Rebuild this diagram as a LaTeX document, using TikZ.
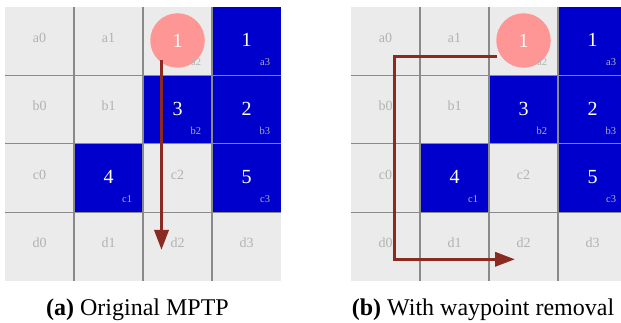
\documentclass[tikz,border=0pt]{standalone}
\usepackage{fontspec}
\setmainfont{Liberation Serif}
\usetikzlibrary{arrows.meta}
\definecolor{cellgray}{HTML}{EBEBEB}
\definecolor{cellblue}{HTML}{0000CC}
\definecolor{gridline}{HTML}{8A8A8A}
\definecolor{lbl}{HTML}{B2B2B2}
\definecolor{pathred}{HTML}{8B2A20}
\definecolor{robot}{HTML}{FF9696}
\begin{document}
\begin{tikzpicture}[x=1pt,y=-1pt,
  cell/.style={rectangle, inner sep=0pt, outer sep=0pt, minimum width=69pt, minimum height=68.5pt, draw=none},
  freecell/.style={cell, fill=cellgray},
  occcell/.style={cell, fill=cellblue},
  midlbl/.style={text=lbl, font=\fontsize{14}{14}\selectfont, anchor=base, inner sep=0pt},
  cornerlbl/.style={text=lbl, font=\fontsize{10.5}{10.5}\selectfont, anchor=base east, inner sep=0pt},
  num/.style={text=white, font=\fontsize{20}{20}\selectfont, inner sep=0pt},
  robotc/.style={circle, fill=robot, minimum size=54.5pt, inner sep=0pt, text=white, font=\fontsize{20}{20}\selectfont},
  gridl/.style={draw=gridline, line width=1.2pt},
  route/.style={draw=pathred, line width=3.5pt, -{Triangle[length=20pt,width=14pt]}},
  caption/.style={font=\fontsize{24}{24}\selectfont, anchor=base, inner sep=0pt}
]
\begin{scope}
\clip (0,0) rectangle (621,323);
\foreach \side/\ox in {L/5,R/351}{
  % free cells with centred labels
  \foreach \n/\c/\r in {a0/0/0,a1/1/0,b0/0/1,b1/1/1,c0/0/2,c2/2/2,d0/0/3,d1/1/3,d2/2/3,d3/3/3}{
    \node[freecell] (\side\n) at ({\ox+69*\c+34.5},{6.7+68.5*\r+34.25}) {};
    \node[midlbl] (\side\n lbl) at ({\ox+69*\c+34.5},{6.7+68.5*\r+35.5}) {\n};
  }
  % occupied cells
  \foreach \n/\c/\r/\k in {a3/3/0/1,b2/2/1/3,b3/3/1/2,c1/1/2/4,c3/3/2/5}{
    \node[occcell] (\side\n) at ({\ox+69*\c+34.5},{6.7+68.5*\r+34.25}) {};
    \node[num] (\side\n num) at ({\ox+69*\c+34.5},{6.7+68.5*\r+33.5}) {\k};
    \node[cornerlbl] (\side\n lbl) at ({\ox+69*\c+58.3},{6.7+68.5*\r+59}) {\n};
  }
  % robot cell a2
  \node[freecell] (\side a2) at ({\ox+69*2+34.5},{6.7+34.25}) {};
  % internal grid lines
  \foreach \k in {1,2,3}{
    \draw[gridl] ({\ox+69*\k},6.7) -- ({\ox+69*\k},280.7);
    \draw[gridl] (\ox,{6.7+68.5*\k}) -- ({\ox+276},{6.7+68.5*\k});
  }
  \node[robotc] (\side robot) at ({\ox+69*2+34.5},40.5) {1};
  \node[cornerlbl] (\side a2lbl) at ({\ox+69*2+58.3},{6.7+59}) {a2};
}
% paths
\coordinate (Lstart) at (161.5,60);
\coordinate (Lend) at (161.5,250);
\draw[route] (Lstart) -- (Lend);
\coordinate (Rstart) at (497,56.7);
\coordinate (Rturn1) at (394.3,56.7);
\coordinate (Rturn2) at (394.3,259.3);
\coordinate (Rend) at (515,259.3);
\draw[route] (Rstart) -- (Rturn1) -- (Rturn2) -- (Rend);
\end{scope}
\node[caption] (capa) at (137.5,315) {\textbf{(a)} Original MPTP};
\node[caption] (capb) at (483,315) {\textbf{(b)} With waypoint removal};
\pgfresetboundingbox
\useasboundingbox (0,0) rectangle (621,323);
\end{tikzpicture}
\end{document}
